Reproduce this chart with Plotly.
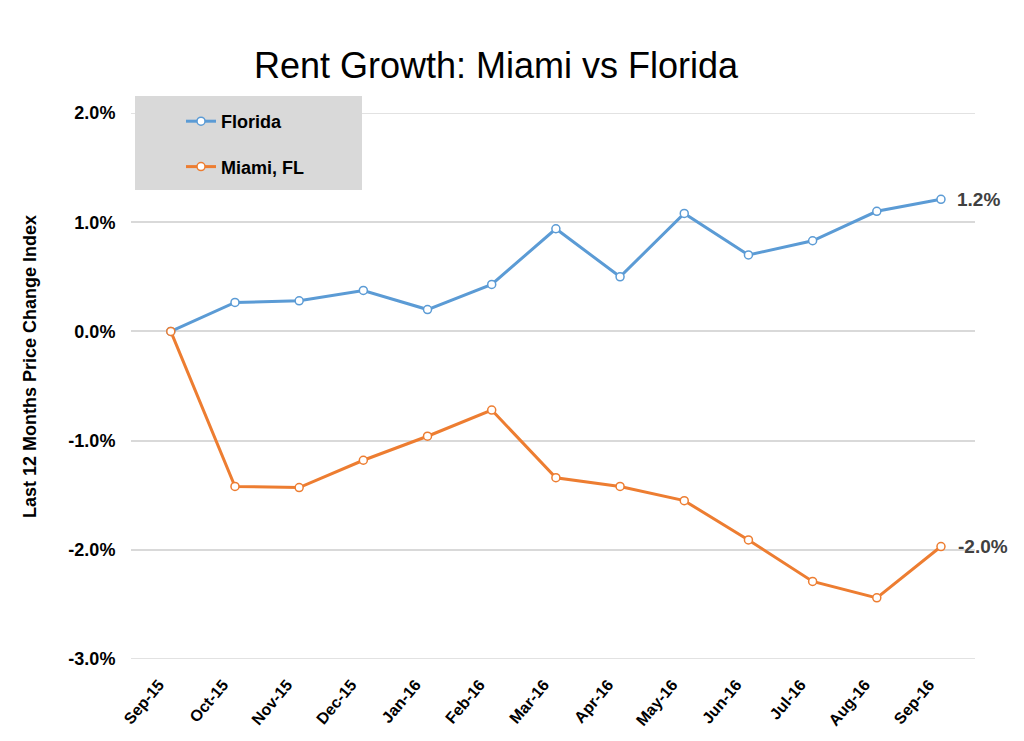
import plotly.graph_objects as go

months = ["Sep-15", "Oct-15", "Nov-15", "Dec-15", "Jan-16", "Feb-16", "Mar-16",
          "Apr-16", "May-16", "Jun-16", "Jul-16", "Aug-16", "Sep-16"]
florida = [0.0, 0.265, 0.28, 0.375, 0.20, 0.43, 0.94, 0.50, 1.08, 0.70, 0.83, 1.10, 1.21]
miami = [0.0, -1.42, -1.43, -1.18, -0.96, -0.72, -1.34, -1.42, -1.55, -1.91, -2.29, -2.44, -1.97]
ytick_vals = [2.0, 1.0, 0.0, -1.0, -2.0, -3.0]
ytick_text = ["2.0%", "1.0%", "0.0%", "-1.0%", "-2.0%", "-3.0%"]

BLUE = "#5B9BD5"
ORANGE = "#ED7D31"
GRID = "#D9D9D9"
FONT = "Liberation Sans, Arial, sans-serif"

# page has an 8px body margin; figure sized to fit the 1024x741 window
OFF = 8
W, H = 1008, 725
L, T = 131 - OFF, 113 - OFF
R = W - (975 - OFF)
B = H - (659 - OFF)
pw, ph = W - L - R, H - T - B

def px(x):  # page x -> paper x
    return (x - OFF - L) / pw

def py(y):  # page y -> paper y
    return (H - B - (y - OFF)) / ph

fig = go.Figure()

# gridlines at the two ends of the value range (plotly drops edge gridlines)
for v in (max(ytick_vals), min(ytick_vals)):
    fig.add_shape(type="line", xref="paper", yref="y", x0=0, x1=1, y0=v, y1=v,
                  line=dict(color=GRID, width=1.5), layer="below")

fig.add_trace(go.Scatter(
    x=list(range(len(months))), y=florida, name="<b>Florida</b>", mode="lines+markers",
    line=dict(color=BLUE, width=3),
    marker=dict(size=8, color="white", line=dict(color=BLUE, width=1.5)),
    legendgroup="a"))
fig.add_trace(go.Scatter(
    x=list(range(len(months))), y=miami, name="<b>Miami, FL</b>", mode="lines+markers",
    line=dict(color=ORANGE, width=3),
    marker=dict(size=8, color="white", line=dict(color=ORANGE, width=1.5)),
    legendgroup="b"))

# end labels
fig.add_annotation(x=len(months) - 1, y=florida[-1], text="<b>%.1f%%</b>" % florida[-1],
                   showarrow=False, xanchor="left", xshift=14,
                   font=dict(size=19, color="#404040", family=FONT))
fig.add_annotation(x=len(months) - 1, y=miami[-1], text="<b>%.1f%%</b>" % miami[-1],
                   showarrow=False, xanchor="left", xshift=15,
                   font=dict(size=19, color="#404040", family=FONT))

# y-axis title
fig.add_annotation(xref="paper", yref="paper", x=px(30), y=py(367),
                   text="<b>Last 12 Months Price Change Index</b>", textangle=-90,
                   showarrow=False, xanchor="center", yanchor="middle",
                   font=dict(size=18, color="black", family=FONT))

# legend background
fig.add_shape(type="rect", xref="paper", yref="paper",
              x0=px(135), x1=px(362), y0=py(190), y1=py(96),
              fillcolor=GRID, line=dict(width=0), layer="above")

fig.update_layout(
    width=W, height=H,
    margin=dict(l=L, r=R, t=T, b=B, autoexpand=False),
    paper_bgcolor="white", plot_bgcolor="white",
    title=dict(text="Rent Growth: Miami vs Florida", x=(496 - OFF) / W, xanchor="center",
               y=1 - (65 - OFF) / H, yanchor="middle",
               font=dict(size=36, color="black", family=FONT)),
    font=dict(family=FONT, color="black"),
    showlegend=True,
    legend=dict(x=px(181), y=py(103), xanchor="left", yanchor="top",
                bgcolor="rgba(0,0,0,0)", traceorder="grouped", tracegroupgap=19,
                font=dict(size=18, color="black", family=FONT), itemwidth=30),
    xaxis=dict(range=[-0.62, 12.53], tickmode="array",
               tickvals=list(range(len(months))),
               ticktext=["<b>%s</b>" % m for m in months],
               tickangle=-50, showgrid=False, zeroline=False, showline=False,
               automargin=False, ticklabelshift=-12,
               ticks="outside", ticklen=9, tickcolor="white",
               tickfont=dict(size=16, color="black", family=FONT)),
    yaxis=dict(range=[-3.0, 2.0], tickmode="array", tickvals=ytick_vals,
               ticktext=["<b>%s</b>" % t for t in ytick_text],
               showgrid=True, gridcolor=GRID, gridwidth=1.5,
               zeroline=False, showline=False, automargin=False,
               ticks="outside", ticklen=11, tickcolor="white",
               tickfont=dict(size=18, color="black", family=FONT)),
)

fig.write_html("out.html")
